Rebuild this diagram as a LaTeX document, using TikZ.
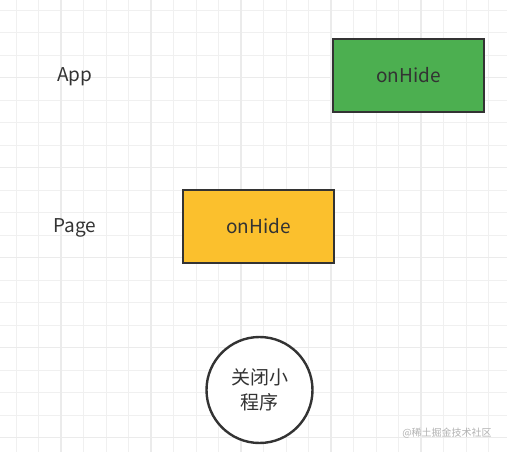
\documentclass[tikz,border=0pt]{standalone}
\usepackage{fontspec}
\setmainfont{Noto Sans CJK SC}
\usepackage{tikz}
\usetikzlibrary{positioning}
\definecolor{hidegreen}{RGB}{76,175,80}
\definecolor{hideyellow}{RGB}{251,192,45}
\definecolor{edgegray}{RGB}{51,51,51}
\tikzstyle{minorline}=[draw=black!6, line width=0.9pt]
\tikzstyle{majorline}=[draw=black!8, line width=1.2pt]
\tikzstyle{level}=[text=edgegray, font=\fontsize{19}{22}\selectfont]
\tikzstyle{hook}=[rectangle, sharp corners, line width=2.4pt, draw=edgegray,
  text=edgegray, minimum width=151pt, minimum height=73pt,
  font=\fontsize{19}{22}\selectfont]
\tikzstyle{event}=[circle, line width=2.4pt, draw=edgegray, text=edgegray,
  minimum size=106pt, inner sep=0pt, align=center,
  font=\fontsize{19}{25}\selectfont]

\begin{document}
\begin{tikzpicture}[x=1pt, y=-1pt]
\useasboundingbox (0,0) rectangle (507,452);
\fill[white] (0,0) rectangle (507,452);

% background grid
\foreach \i in {0,...,21}
  \draw[minorline] (16+22.5*\i,0) -- (16+22.5*\i,452);
\foreach \i in {0,...,19}
  \draw[minorline] (0,10.2+22.5*\i) -- (507,10.2+22.5*\i);
\foreach \i in {2,6,10,14,18}
  \draw[majorline] (16+22.5*\i,0) -- (16+22.5*\i,452);
\foreach \i in {3,7,11,15,19}
  \draw[majorline] (0,10.2+22.5*\i) -- (507,10.2+22.5*\i);

\node[level] at (75,77) (applabel) {App};
\node[level] at (75,228) (pagelabel) {Page};

\node[hook, fill=hidegreen] at (408.5,75.5) (apphide) {onHide};
\node[hook, fill=hideyellow] at (258.5,226.5) (pagehide) {onHide};

\node[event, fill=white] at (259.5,390) (closeapp) {关闭小\\程序};

%\node watermark
\node[text=black!30, font=\fontsize{10}{12}\selectfont] at (447,433) (mark) {@稀土掘金技术社区};

\end{tikzpicture}
\end{document}
